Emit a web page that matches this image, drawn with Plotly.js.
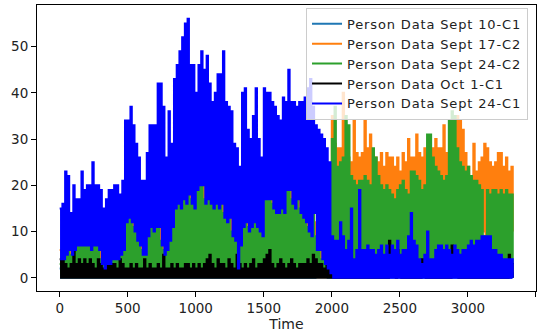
<!DOCTYPE html>
<html><head><meta charset="utf-8">
<script src="https://cdn.plot.ly/plotly-3.0.1.min.js"></script>
<style>html,body{margin:0;padding:0;background:#fff}#chart{width:553px;height:332px}
.legendtext{letter-spacing:0.85px}</style>
</head><body><div id="chart"></div>
<script>
// Series labels (legend order)
const seriesNames = ["Person Data Sept 10-C1","Person Data Sept 17-C2","Person Data Sept 24-C2","Person Data Oct 1-C1","Person Data Sept 24-C1"];
// Samples every 20 time units starting at 0; each sample has a local peak at t and a trough at t+10
const sampleStart = 0;
const sampleStep = 20;

const sept10C1Peak = [
2,2,2,1,2,2,2,2,1,2, 2,1,2,2,2,1,2,2,2,2, 2,1,2,2,1,2,1,2,2,1, 2,2,1,2,2,1,2,2,1,2,
1,2,2,1,2,2,1,2,1,2, 2,1,2,1,2,2,1,2,1,2, 2,1,2,2,1,2,1,2,1,2, 2,1,2,1,2,2,1,2,2,1,
1,2,2,1,2,1,2,2,1,2, 2,1,2,2,3,3,4,4,2,2, 1,2,1,2,1,1,2,1,1,2, 1,2,1,1,2,1,2,1,1,2,
1,1,2,1,2,1,1,2,1,1, 1,2,1,1,2,1,1,2,1,1, 1,1,2,1,1,2,1,1,2,1, 1,2,1,1,2,1,2,1,1,2,
1,2,1,1,2,1,1];
const sept10C1Trough = [
0,0,0,0,0,0,0,0,0,0, 0,0,0,0,0,0,0,0,0,0, 0,0,0,0,0,0,0,0,0,0, 0,0,0,0,0,0,0,0,0,0,
0,0,0,0,0,0,0,0,0,0, 0,0,0,0,0,0,0,0,0,0, 0,0,0,0,0,0,0,0,0,0, 0,0,0,0,0,0,0,0,0,0,
0,0,0,0,0,0,0,0,0,0, 0,0,0,0,1,1,1,1,0,0, 0,0,0,0,0,0,0,0,0,0, 0,0,0,0,0,0,0,0,0,0,
0,0,0,0,0,0,0,0,0,0, 0,0,0,0,0,0,0,0,0,0, 0,0,0,0,0,0,0,0,0,0, 0,0,0,0,0,0,0,0,0,0,
0,0,0,0,0,0,0];

const sept17C2Peak = [
6,8,10,12,10,12,14,15,16,18, 17,16,18,17,16,14,12,14,15,16, 16,17,15,18,20,22,20,18,17,15, 15,14,18,20,19,22,24,20,18,16,
20,22,24,25,23,28,26,24,22,20, 22,24,26,24,22,20,24,22,20,21, 20,18,19,17,16,14,12,18,17,16, 17,18,20,16,15,20,21,20,19,18,
18,19,18,22,21,20,19,20,18,17, 16,14,13,17,12,10,8,6,10,14, 35,29,28,28,40,27,26,25,34,27, 26,27,34,28,31,27,26,25,27,24,
27,26,26,24,26,23,27,25,30,26, 26,31,27,26,28,27,26,28,30,28, 28,33,27,27,30,33,35,34,32,27, 24,22,29,23,25,26,29,28,25,24,
25,27,27,24,26,23,24];
const sept17C2Trough = [
1,2,1,2,1,2,1,2,1,2, 2,1,2,1,2,1,1,2,1,2, 2,1,2,1,2,1,2,1,2,1, 1,2,1,2,1,2,1,2,1,2,
2,1,2,1,2,1,2,1,2,1, 2,1,2,1,2,1,2,1,2,1, 2,1,2,1,2,1,2,1,2,1, 2,1,2,1,2,1,2,1,2,1,
2,1,2,1,2,1,2,1,2,1, 2,1,2,1,2,1,2,1,2,3, 10,11,9,10,12,9,10,11,9,10, 10,9,11,10,9,11,10,9,10,11,
10,11,9,10,11,10,9,11,10,12, 10,12,11,10,9,11,10,12,11,10, 11,10,12,11,10,12,11,10,12,11, 10,11,10,12,11,10,8,11,10,12,
10,11,10,11,10,11,10];

const sept24C2Peak = [
3,4,6,7,5,7,8,8,8,8, 8,7,8,8,7,4,3,4,4,5, 6,5,6,7,13,14,14,11,10,8, 6,6,10,12,11,12,13,8,6,7,
9,12,16,17,16,18,17,19,17,16, 20,21,22,17,18,17,16,17,16,17, 14,13,14,10,9,8,8,12,13,11, 12,13,12,11,10,18,18,18,16,15,
15,16,15,20,20,17,16,18,15,14, 14,11,10,15,9,8,4,4,3,3, 30,37,24,25,26,35,33,22,21,20, 21,21,22,21,20,28,26,22,20,19,
20,19,18,17,19,20,21,19,18,23, 23,22,21,19,20,31,31,26,24,23, 22,21,22,34,36,35,28,25,24,23, 24,22,21,21,20,19,9,19,18,19,
19,18,19,18,19,18,18];
const sept24C2Trough = [
1,1,1,2,1,1,2,1,1,2, 1,2,1,1,2,1,1,1,2,1, 1,2,1,1,2,1,1,2,1,1, 2,1,1,2,1,1,2,1,1,2,
1,2,1,1,2,1,2,1,1,2, 1,2,1,2,1,1,2,1,2,1, 1,2,1,2,1,1,2,1,1,2, 1,2,1,1,2,1,2,1,1,2,
1,2,1,2,1,1,2,1,1,2, 1,2,1,2,1,1,1,1,1,2, 3,4,3,4,3,3,4,3,3,4, 3,3,4,3,4,3,3,4,3,3,
3,4,3,3,4,3,4,3,3,4, 3,3,3,2,3,4,3,3,4,3, 3,4,3,3,4,3,3,4,3,3, 3,4,3,3,4,3,3,4,3,3,
3,3,4,3,3,4,3];

const oct1C1Peak = [
4,5,3,2,3,8,3,4,3,4, 3,4,3,2,4,3,2,3,4,3, 3,2,4,3,2,2,3,2,3,2, 2,4,2,3,2,2,3,2,5,2,
2,3,2,3,2,2,3,3,2,3, 2,3,2,3,4,5,3,2,4,3, 3,2,4,3,2,5,3,2,3,2, 3,4,2,3,3,4,5,6,3,2,
3,4,3,2,3,4,3,2,3,3, 3,4,3,5,4,3,3,2,4,3, 2,3,2,2,3,2,1,2,3,2, 2,2,3,2,2,3,2,2,3,2,
3,8,5,4,6,3,2,3,2,2, 2,3,2,4,4,3,2,3,3,2, 3,2,3,2,7,6,5,3,4,2, 2,3,2,3,2,3,2,3,2,3,
2,3,2,3,2,5,3];
const oct1C1Trough = [
0,0,0,0,0,0,0,0,0,0, 0,0,0,0,0,0,0,0,0,0, 0,0,0,0,0,0,0,0,0,0, 0,0,0,0,0,0,0,0,0,0,
0,0,0,0,0,0,0,0,0,0, 0,0,0,0,0,0,0,0,0,0, 0,0,0,0,0,0,0,0,0,0, 0,0,0,0,0,0,0,0,0,0,
0,0,0,0,0,0,0,0,0,0, 0,0,0,0,0,0,0,0,0,0, 0,0,0,0,0,0,0,0,0,0, 0,0,0,0,0,0,0,0,0,0,
0,2,1,0,1,0,0,0,0,0, 0,0,0,1,0,0,0,0,0,0, 0,0,0,0,2,1,0,0,0,0, 0,0,0,0,0,0,0,0,0,0,
0,0,0,0,0,1,0];

const sept24C1Peak = [
15,16,23,22,14,20,17,17,23,19, 20,20,25,20,20,19,15,17,19,19, 20,20,18,21,34,34,37,33,29,26, 21,21,27,33,33,33,42,42,37,26,
36,29,43,46,49,52,55,56,46,46, 40,46,49,45,48,42,38,40,44,44, 49,38,37,36,29,28,24,40,41,32, 30,35,41,30,26,41,40,40,38,37,
35,34,39,38,45,38,38,37,38,38, 39,41,43,37,33,32,31,30,28,25, 9,8,8,12,9,6,8,15,4,6, 19,6,6,7,6,6,5,6,7,5,
7,5,7,6,8,5,6,6,9,14, 8,7,4,3,5,10,4,4,6,7, 7,6,7,6,5,7,6,5,6,6, 7,8,7,8,8,9,9,9,9,6,
6,5,5,4,4,4,4];
const sept24C1Trough = [
4,4,5,6,5,6,7,7,7,7, 7,6,7,7,6,3,2,3,3,4, 4,4,5,6,12,13,12,10,8,7, 5,5,9,11,10,11,11,7,5,6,
8,11,15,16,15,17,16,18,16,15, 19,20,20,16,17,16,15,16,15,16, 13,12,13,9,8,2,7,11,12,10, 11,12,11,10,9,17,17,17,15,14,
14,15,14,19,19,16,15,17,14,13, 12,10,9,14,6,6,4,3,2,1, 0,0,0,0,0,0,0,0,0,0, 0,0,0,0,0,0,0,0,0,0,
0,0,0,0,0,0,0,0,0,0, 0,0,0,0,0,0,0,0,0,0, 0,0,0,0,0,0,0,0,0,0, 0,0,0,0,0,0,0,0,0,0,
0,0,0,0,0,0,0];

const xTickVals = [0,500,1000,1500,2000,2500,3000,3500];
const yTickVals = [0,10,20,30,40,50];
const seriesColors = ["#1f77b4","#ff7f0e","#2ca02c","#000000","#0000ff"];

function interleave(peaks, troughs) {
  const x = [], y = [];
  for (let i = 0; i < peaks.length; i++) {
    const t = sampleStart + i * sampleStep;
    x.push(t); y.push(peaks[i]);
    x.push(t + sampleStep / 2); y.push(troughs[i]);
  }
  return {x, y};
}

const pairs = [
  [sept10C1Peak, sept10C1Trough],
  [sept17C2Peak, sept17C2Trough],
  [sept24C2Peak, sept24C2Trough],
  [oct1C1Peak, oct1C1Trough],
  [sept24C1Peak, sept24C1Trough]
];

const traces = pairs.map((p, k) => {
  const d = interleave(p[0], p[1]);
  return {
    type: 'scatter', mode: 'lines', x: d.x, y: d.y,
    name: seriesNames[k],
    line: {color: seriesColors[k], width: 2, shape: 'hv', simplify: false},
    hoverinfo: 'skip'
  };
});

const axisCommon = {
  ticks: 'outside', ticklen: 5, tickwidth: 1, tickcolor: '#000',
  showline: true, mirror: true, linecolor: '#000', linewidth: 1,
  showgrid: false, zeroline: false,
  tickfont: {family: 'DejaVu Sans', size: 13.5, color: '#222'}
};

const layout = {
  width: 553, height: 332,
  margin: {l: 37, r: 17, t: 5, b: 41},
  paper_bgcolor: '#ffffff', plot_bgcolor: '#ffffff',
  font: {family: 'DejaVu Sans', size: 14, color: '#222'},
  showlegend: true,
  legend: {
    x: 0.984, y: 0.99, xanchor: 'right', yanchor: 'top',
    bgcolor: 'rgba(255,255,255,0.8)', bordercolor: '#cccccc', borderwidth: 1,
    font: {family: 'DejaVu Sans', size: 13, color: '#222'}
  },
  xaxis: Object.assign({}, axisCommon, {
    range: [-166.7, 3500.7], tickvals: xTickVals, ticktext: xTickVals.map(String),
    title: {text: 'Time', font: {family: 'DejaVu Sans', size: 14, color: '#222'}, standoff: 2}
  }),
  yaxis: Object.assign({}, axisCommon, {
    range: [-2.85, 59.0], tickvals: yTickVals, ticktext: yTickVals.map(String)
  })
};

Plotly.newPlot('chart', traces, layout, {staticPlot: true, displayModeBar: false});
</script>
</body></html>
